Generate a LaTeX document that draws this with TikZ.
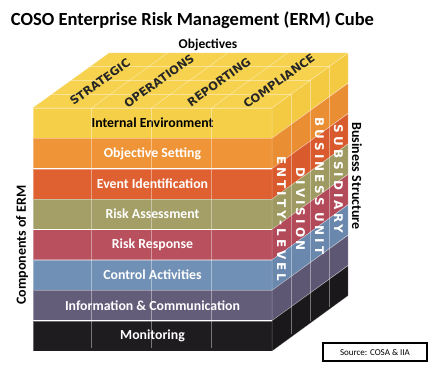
\documentclass[tikz,border=0pt]{standalone}
\usepackage{fontspec}
\setmainfont{Carlito}
\newfontfamily\objfont{DejaVu Sans}
\newfontfamily\unitfont[LetterSpace=25]{DejaVu Sans}
\usetikzlibrary{positioning}

\definecolor{ieC}{HTML}{F6CF48}
\definecolor{osC}{HTML}{EF9538}
\definecolor{eiC}{HTML}{DF6131}
\definecolor{raC}{HTML}{A39F67}
\definecolor{rrC}{HTML}{B9505E}
\definecolor{caC}{HTML}{7190B5}
\definecolor{icC}{HTML}{645D7A}
\definecolor{moC}{HTML}{1E1C1E}
\definecolor{ieR}{HTML}{F3CA42}
\definecolor{osR}{HTML}{EA8E33}
\definecolor{eiR}{HTML}{D95B2D}
\definecolor{raR}{HTML}{9E9A62}
\definecolor{rrR}{HTML}{B24A59}
\definecolor{caR}{HTML}{6A88AD}
\definecolor{icR}{HTML}{5E5774}
\definecolor{moR}{HTML}{1A181A}
\definecolor{topC}{HTML}{F7D24E}

\begin{document}
\begin{tikzpicture}[x=1pt, y=-1pt,
  row/.style={rectangle, draw=white, draw opacity=0.35, minimum width=239pt, minimum height=30pt, inner sep=0pt, font=\fontsize{13.8}{15}\selectfont\bfseries, text=white},
  side/.style={draw=white, draw opacity=0.35, line width=0.5pt},
  grid/.style={draw=white, draw opacity=0.4, line width=0.6pt},
  objlabel/.style={rotate=35.5, inner sep=0pt, font=\objfont\fontsize{11.5}{13}\selectfont\bfseries, text=black!85},
  unitlabel/.style={rotate=-90, inner sep=0pt, font=\unitfont\fontsize{12}{13}\selectfont\bfseries, text=white},
  axislabel/.style={font=\fontsize{14}{16}\selectfont\bfseries},
  node distance=0pt
]
  \useasboundingbox[fill=white] (0,0) rectangle (432,372);

  % front face: components of ERM
  \node[row, fill=ieC, text=black] (ie) at (152.5,123) {Internal Environment};
  \node[row, fill=osC, below=of ie] (os) {Objective Setting};
  \node[row, fill=eiC, below=of os] (ei) {Event Identification};
  \node[row, fill=raC, below=of ei] (ra) {Risk Assessment};
  \node[row, fill=rrC, below=of ra] (rr) {Risk Response};
  \node[row, fill=caC, below=of rr] (ca) {Control Activities};
  \node[row, fill=icC, below=of ca] (ic) {Information \& Communication};
  \node[row, fill=moC, below=of ic] (mo) {Monitoring};

  % right face
  \filldraw[side, fill=ieR] (ie.north east) -- ++(76,-55) -- ++(0,30) -- (ie.south east) -- cycle;
  \filldraw[side, fill=osR] (os.north east) -- ++(76,-55) -- ++(0,30) -- (os.south east) -- cycle;
  \filldraw[side, fill=eiR] (ei.north east) -- ++(76,-55) -- ++(0,30) -- (ei.south east) -- cycle;
  \filldraw[side, fill=raR] (ra.north east) -- ++(76,-55) -- ++(0,30) -- (ra.south east) -- cycle;
  \filldraw[side, fill=rrR] (rr.north east) -- ++(76,-55) -- ++(0,30) -- (rr.south east) -- cycle;
  \filldraw[side, fill=caR] (ca.north east) -- ++(76,-55) -- ++(0,30) -- (ca.south east) -- cycle;
  \filldraw[side, fill=icR] (ic.north east) -- ++(76,-55) -- ++(0,30) -- (ic.south east) -- cycle;
  \filldraw[side, fill=moR] (mo.north east) -- ++(76,-55) -- ++(0,30) -- (mo.south east) -- cycle;

  % top face
  \filldraw[side, fill=topC] (ie.north west) -- (ie.north east) -- ++(76,-55) -- ++(-239,0) -- cycle;

  % grid lines
  \draw[grid] (91.5,108) -- (91.5,348);
  \draw[grid] (151.5,108) -- (151.5,348);
  \draw[grid] (211.5,108) -- (211.5,348);
  \draw[grid] (91.5,108) -- ++(76,-55);
  \draw[grid] (151.5,108) -- ++(76,-55);
  \draw[grid] (211.5,108) -- ++(76,-55);
  \draw[grid] (52,94.25) -- ++(239,0) -- ++(0,240);
  \draw[grid] (71,80.5) -- ++(239,0) -- ++(0,240);
  \draw[grid] (90,66.75) -- ++(239,0) -- ++(0,240);

  % objectives on top
  \node[objlabel] (strategic) at (100,82) {STRATEGIC};
  \node[objlabel] (operations) at (159,81) {OPERATIONS};
  \node[objlabel] (reporting) at (219,82) {REPORTING};
  \node[objlabel] (compliance) at (279,81) {COMPLIANCE};

  % business units on the side
  \node[unitlabel] (entity) at (281.5,219) {ENTITY-LEVEL};
  \node[unitlabel] (division) at (300.5,209) {DIVISION};
  \node[unitlabel] (bunit) at (319.5,186) {BUSINESS UNIT};
  \node[unitlabel] (subsidiary) at (338.5,179) {SUBSIDIARY};

  % titles
  \node[font=\fontsize{18.5}{21}\selectfont\bfseries] (title) at (192.5,20) {COSO Enterprise Risk Management (ERM) Cube};
  \node[axislabel, font=\fontsize{13.5}{15}\selectfont\bfseries] (objectives) at (208,45) {Objectives};
  \node[axislabel, rotate=90] (components) at (22,245) {Components of ERM};
  \node[axislabel, rotate=-90] (structure) at (357,176) {Business Structure};

  \node[draw, line width=1.3pt, minimum width=104pt, minimum height=18pt, font=\fontsize{9}{10}\selectfont] (source) at (375,352) {Source: COSA \& IIA};
\end{tikzpicture}
\end{document}
